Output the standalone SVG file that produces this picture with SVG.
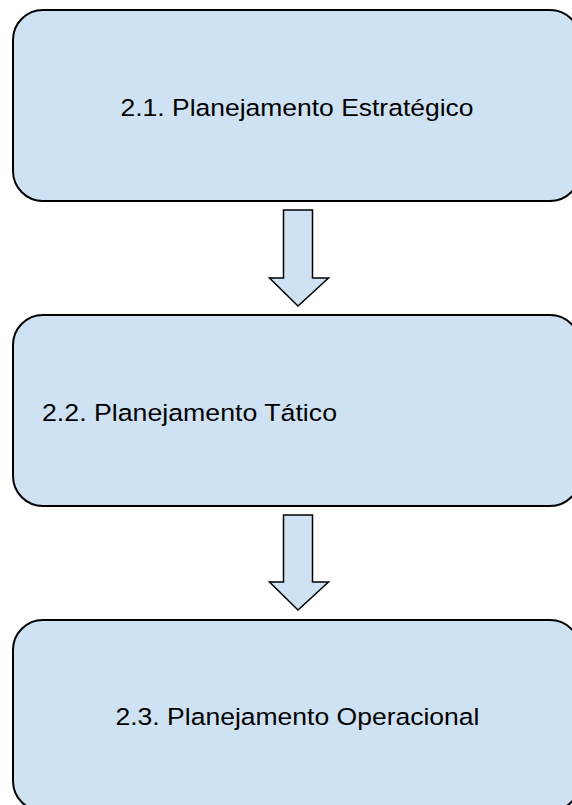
<svg xmlns="http://www.w3.org/2000/svg" width="572" height="805" viewBox="0 0 572 805">
  <style>
    .box { fill: #cfe2f3; stroke: #000; stroke-width: 2; }
    .arrow { fill: #cfe2f3; stroke: #000; stroke-width: 1.5; stroke-linejoin: miter; }
    .label { font-family: "Liberation Sans", Arial, sans-serif; font-size: 24.5px; fill: #000; }
  </style>
  <rect width="572" height="805" fill="#fff"/>

  <g id="connectors">
    <path class="arrow" d="M283.5,210 H312.5 V278 H328.5 L298,306 L269.5,278 H283.5 Z"/>
    <path class="arrow" d="M283.5,515 H312.5 V582 H328.5 L298,610 L269.5,582 H283.5 Z"/>
  </g>

  <g id="node-estrategico">
    <rect class="box" x="13" y="10" width="567" height="191" rx="30" ry="30"/>
    <text class="label" x="120.5" y="116" textLength="353" lengthAdjust="spacingAndGlyphs">2.1. Planejamento Estratégico</text>
  </g>

  <g id="node-tatico">
    <rect class="box" x="13" y="315" width="567" height="191" rx="30" ry="30"/>
    <text class="label" x="42" y="421" textLength="295" lengthAdjust="spacingAndGlyphs">2.2. Planejamento Tático</text>
  </g>

  <g id="node-operacional">
    <rect class="box" x="13" y="620" width="567" height="191" rx="30" ry="30"/>
    <text class="label" x="115.5" y="725" textLength="364" lengthAdjust="spacingAndGlyphs">2.3. Planejamento Operacional</text>
  </g>
</svg>
